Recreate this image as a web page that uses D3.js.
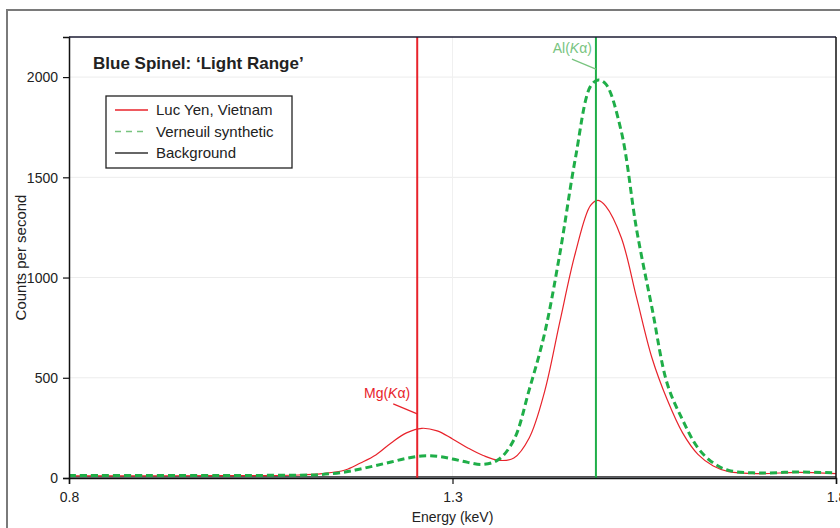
<!DOCTYPE html>
<html>
<head>
<meta charset="utf-8">
<script src="https://cdn.jsdelivr.net/npm/d3@7"></script>
<style>
  body { margin: 0; background: #fff; }
  svg text { font-family: "Liberation Sans", Arial, sans-serif; }
</style>
</head>
<body>
<div id="graphic"></div>
<script>
// energies (keV) at which the spectra were read
const energy = [0.80, 0.90, 1.00, 1.05, 1.10, 1.13, 1.16, 1.18, 1.20, 1.22, 1.24, 1.26, 1.28, 1.30, 1.32, 1.34, 1.36, 1.38, 1.40, 1.42, 1.44, 1.46, 1.48, 1.49, 1.50, 1.52, 1.54, 1.56, 1.58, 1.60, 1.62, 1.64, 1.66, 1.70, 1.75, 1.80];
const lucYen = [11, 11, 12, 12, 15, 22, 40, 75, 115, 175, 225, 248, 235, 195, 150, 112, 88, 100, 200, 430, 780, 1120, 1360, 1385, 1355, 1200, 900, 600, 390, 225, 118, 60, 32, 22, 28, 22];
const verneuil = [12, 12, 12, 13, 14, 18, 30, 45, 62, 80, 98, 110, 108, 95, 78, 68, 92, 190, 440, 720, 1120, 1590, 1955, 1985, 1965, 1730, 1240, 850, 470, 290, 150, 75, 38, 25, 30, 25];
const background = [6, 6, 6, 6, 6, 6, 6, 6, 6, 6, 6, 6, 6, 6, 6, 6, 6, 6, 6, 6, 6, 6, 6, 6, 6, 6, 6, 6, 6, 6, 6, 6, 6, 6, 6, 6];

const xTicks = [0.8, 1.3, 1.8];
const yTicks = [0, 500, 1000, 1500, 2000];

// emission line markers
const peakNames = ["Mg", "Al"];
const peakEnergy = [1.254, 1.487];

const seriesNames = ["Luc Yen, Vietnam", "Verneuil synthetic", "Background"];

const margin = { top: 37, right: 4, bottom: 50, left: 69 };
const W = 840, H = 528;
const width = W - margin.left - margin.right;
const height = H - margin.top - margin.bottom;

const red = "#e8232b", green = "#1fae48", labelGreen = "#78c47f";

const svg = d3.select("#graphic").append("svg")
  .attr("width", W)
  .attr("height", H);

// outer panel frame
svg.append("rect")
  .attr("x", 7).attr("y", 10)
  .attr("width", W).attr("height", H)
  .attr("fill", "none")
  .attr("stroke", "#7a7a7a")
  .attr("stroke-width", 2);

const g = svg.append("g")
  .attr("transform", "translate(" + margin.left + "," + margin.top + ")");

const x = d3.scaleLinear().domain([0.8, 1.8]).range([0, width]);
const y = d3.scaleLinear().domain([0, 2200]).range([height, 0]);

// faint grid
g.selectAll(".hgrid").data(yTicks.slice(1)).enter().append("line")
  .attr("x1", 0).attr("x2", width)
  .attr("y1", d => y(d)).attr("y2", d => y(d))
  .attr("stroke", "#ececec").attr("stroke-width", 1);
g.selectAll(".vgrid").data(xTicks.slice(1, -1)).enter().append("line")
  .attr("x1", d => x(d)).attr("x2", d => x(d))
  .attr("y1", 0).attr("y2", height)
  .attr("stroke", "#f0f0f0").attr("stroke-width", 1);

const rows = energy.map((e, i) => ({ e: e, red: lucYen[i], green: verneuil[i], bg: background[i] }));

// light band under the background trace
g.append("path")
  .datum(rows)
  .attr("fill", "#c9d3e3")
  .attr("d", d3.area().x(d => x(d.e)).y0(y(0)).y1(d => y(d.bg)));

const line = key => d3.line()
  .x(d => x(d.e))
  .y(d => y(d[key]))
  .curve(d3.curveCatmullRom.alpha(0.5));

g.append("path").datum(rows)
  .attr("fill", "none").attr("stroke", "#222").attr("stroke-width", 1.3)
  .attr("d", line("bg"));

g.append("path").datum(rows)
  .attr("fill", "none").attr("stroke", red).attr("stroke-width", 1.2)
  .attr("d", line("red"));

g.append("path").datum(rows)
  .attr("fill", "none").attr("stroke", green).attr("stroke-width", 3)
  .attr("stroke-dasharray", "7,4")
  .attr("d", line("green"));

// peak marker lines
const peakColors = [red, green];
g.selectAll(".peak").data(peakEnergy).enter().append("line")
  .attr("x1", d => x(d)).attr("x2", d => x(d))
  .attr("y1", 0).attr("y2", height)
  .attr("stroke", (d, i) => peakColors[i])
  .attr("stroke-width", 2);

// peak labels with leader lines
function peakLabel(i, value, color, shift) {
  const px = x(peakEnergy[i]);
  g.append("line")
    .attr("x1", px - 24).attr("y1", y(value) - 10)
    .attr("x2", px).attr("y2", y(value))
    .attr("stroke", color).attr("stroke-width", 1.2);
  const t = g.append("text")
    .attr("x", px - 7 + shift).attr("y", y(value) - 16)
    .attr("text-anchor", "end")
    .attr("font-size", 14)
    .attr("fill", color);
  t.append("tspan").text(peakNames[i] + "(");
  t.append("tspan").attr("font-style", "italic").text("K");
  t.append("tspan").text("α)");
}
peakLabel(0, 320, red, 0);
peakLabel(1, 2040, labelGreen, 3);

// axes
const xAxis = g.append("g")
  .attr("transform", "translate(0," + height + ")")
  .call(d3.axisBottom(x).tickValues(xTicks).tickFormat(d3.format(".1f")).tickSizeOuter(0).tickSize(6));
const yAxis = g.append("g")
  .call(d3.axisLeft(y).tickValues(yTicks).tickSizeOuter(0).tickSize(6).tickFormat(d => d));

[xAxis, yAxis].forEach(a => {
  a.select(".domain").attr("stroke", "#111").attr("stroke-width", 1.5);
  a.selectAll(".tick line").attr("stroke", "#111").attr("stroke-width", 1.2);
  a.selectAll(".tick text").attr("font-size", 14).attr("fill", "#222")
    .attr("font-family", "'Liberation Sans', Arial, sans-serif");
});
xAxis.selectAll(".tick text").attr("dy", "1.1em");
yAxis.selectAll(".tick text").attr("dx", "-2px").attr("dy", "0.35em").attr("y", 0);

// top and right frame
g.append("line").attr("x1", 0).attr("x2", width).attr("y1", 0).attr("y2", 0)
  .attr("stroke", "#1c1c33").attr("stroke-width", 1.5);
g.append("line").attr("x1", width).attr("x2", width).attr("y1", 0).attr("y2", height)
  .attr("stroke", "#111").attr("stroke-width", 1.5);

// axis titles
g.append("text")
  .attr("x", x(1.3)).attr("y", height + 44)
  .attr("text-anchor", "middle")
  .attr("font-size", 14).attr("fill", "#222")
  .text("Energy (keV)");
g.append("text")
  .attr("transform", "translate(" + (-43) + "," + (height / 2) + ") rotate(-90)")
  .attr("text-anchor", "middle")
  .attr("font-size", 15).attr("fill", "#222")
  .text("Counts per second");

// chart title
g.append("text")
  .attr("x", 24).attr("y", 32)
  .attr("font-size", 17).attr("font-weight", "bold").attr("fill", "#222")
  .text("Blue Spinel: \u2018Light Range\u2019");

// legend
const legend = g.append("g").attr("transform", "translate(37,59)");
legend.append("rect")
  .attr("width", 186).attr("height", 72)
  .attr("fill", "#fff").attr("stroke", "#222").attr("stroke-width", 1.3);
const legColors = [red, labelGreen, "#333"];
const legDash = [null, "6,5", null];
seriesNames.forEach((name, i) => {
  const ly = 14 + i * 21.5;
  legend.append("line")
    .attr("x1", 9).attr("x2", 42).attr("y1", ly).attr("y2", ly)
    .attr("stroke", legColors[i]).attr("stroke-width", 1.5)
    .attr("stroke-dasharray", legDash[i]);
  legend.append("text")
    .attr("x", 50).attr("y", ly).attr("dy", "0.35em")
    .attr("font-size", 15).attr("fill", "#222")
    .text(name);
});
</script>
</body>
</html>
